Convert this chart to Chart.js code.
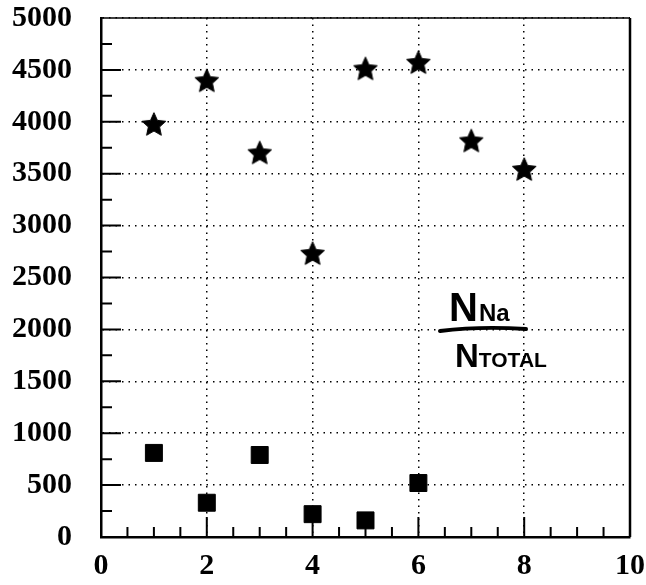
<!DOCTYPE html>
<html>
<head>
<meta charset="utf-8">
<script src="https://cdn.jsdelivr.net/npm/chart.js@4/dist/chart.umd.min.js"></script>
<style>
    body { margin: 0; background: #fff; }
    #wrap { width: 646px; height: 585px; }
</style>
</head>
<body>
<div id="wrap"><canvas id="plot" width="646" height="585"></canvas></div>
<script>
// values
const starX = [1, 2, 3, 4, 5, 6, 7, 8];
const starY = [3980, 4400, 3705, 2735, 4515, 4575, 3820, 3545];
const squareX = [1, 2, 3, 4, 5, 6];
const squareY = [810, 330, 790, 220, 160, 520];

const xTicks = [0, 2, 4, 6, 8, 10];
const yTicks = [0, 500, 1000, 1500, 2000, 2500, 3000, 3500, 4000, 4500, 5000];
const noteTop = ['N', 'Na'];
const noteBottom = ['N', 'TOTAL'];

// filled five point star used as point image
function makeStar(R) {
    const c = document.createElement('canvas');
    const s = Math.ceil(R * 2.2);
    c.width = s;
    c.height = s;
    const g = c.getContext('2d');
    const cx = s / 2, cy = s / 2 + 0.0955 * R;
    g.beginPath();
    for (let i = 0; i < 10; i++) {
        const r = i % 2 === 0 ? R : R * 0.47;
        const a = -Math.PI / 2 + i * Math.PI / 5;
        g.lineTo(cx + r * Math.cos(a), cy + r * Math.sin(a));
    }
    g.closePath();
    g.fillStyle = '#000';
    g.fill();
    g.lineWidth = 1;
    g.strokeStyle = '#000';
    g.stroke();
    return c;
}

const starImg = makeStar(12.5);

// inward ticks, frame and the hand written note
const extras = {
    id: 'extras',
    beforeDatasetsDraw(chart) {
        const ctx = chart.ctx;
        const a = chart.chartArea;
        const xs = chart.scales.x, ys = chart.scales.y;
        ctx.save();
        ctx.strokeStyle = '#000';
        ctx.lineWidth = 2;
        ctx.beginPath();
        for (let v = 0.5; v < 10; v += 0.5) {
            const px = xs.getPixelForValue(v);
            const len = (v % 2 === 0) ? 20 : 10;
            ctx.moveTo(px, a.bottom);
            ctx.lineTo(px, a.bottom - len);
        }
        for (let v = 250; v < 5000; v += 250) {
            const py = ys.getPixelForValue(v);
            const len = (v % 500 === 0) ? 20 : 11;
            ctx.moveTo(a.left, py);
            ctx.lineTo(a.left + len, py);
        }
        ctx.stroke();
        // frame on top and right
        ctx.lineWidth = 1.5;
        ctx.beginPath();
        ctx.moveTo(a.left, a.top);
        ctx.lineTo(a.right, a.top);
        ctx.stroke();
        ctx.lineWidth = 2.5;
        ctx.beginPath();
        ctx.moveTo(a.right, a.top);
        ctx.lineTo(a.right, a.bottom);
        ctx.stroke();

        // note: N_Na over N_TOTAL
        ctx.fillStyle = '#000';
        ctx.textBaseline = 'alphabetic';
        ctx.textAlign = 'left';
        ctx.font = 'bold 40px "Liberation Sans Narrow", "Liberation Sans"';
        ctx.fillText(noteTop[0], 449, 321);
        let w = ctx.measureText(noteTop[0]).width;
        ctx.font = 'bold 24px "Liberation Sans"';
        ctx.fillText(noteTop[1], 449 + w + 1, 321);

        ctx.lineWidth = 4;
        ctx.lineCap = 'round';
        ctx.beginPath();
        ctx.moveTo(440, 331);
        ctx.quadraticCurveTo(480, 326, 526, 329);
        ctx.stroke();

        ctx.font = 'bold 33px "Liberation Sans Narrow", "Liberation Sans"';
        ctx.fillText(noteBottom[0], 455, 367);
        w = ctx.measureText(noteBottom[0]).width;
        ctx.font = 'bold 21px "Liberation Sans Narrow", "Liberation Sans"';
        ctx.fillText(noteBottom[1], 455 + w, 367);
        ctx.restore();
    }
};

const tickFont = { family: '"Liberation Serif", "DejaVu Serif", serif', weight: 'bold', size: 30 };

new Chart(document.getElementById('plot').getContext('2d'), {
    type: 'scatter',
    data: {
        datasets: [{
            label: 'stars',
            data: starX.map((x, i) => ({ x: x, y: starY[i] })),
            pointStyle: starImg,
            pointRadius: 12
        }, {
            label: 'squares',
            data: squareX.map((x, i) => ({ x: x, y: squareY[i] })),
            pointStyle: 'rect',
            pointRadius: 12,
            backgroundColor: '#000',
            borderColor: '#000',
            borderWidth: 1
        }]
    },
    options: {
        responsive: false,
        animation: false,
        layout: { padding: 0 },
        plugins: {
            legend: { display: false },
            tooltip: { enabled: false }
        },
        scales: {
            x: {
                type: 'linear',
                min: 0,
                max: 10,
                afterFit: (s) => { s.height = 48; s.paddingLeft = 0; s.paddingRight = 16; },
                afterBuildTicks: (s) => { s.ticks = xTicks.map(v => ({ value: v })); },
                ticks: { font: tickFont, color: '#000', padding: 11, callback: (v) => String(v) },
                grid: { color: '#000', lineWidth: 1.5, drawTicks: false },
                border: { display: true, color: '#000', width: 2.5, dash: [1.5, 5] }
            },
            y: {
                type: 'linear',
                min: 0,
                max: 5000,
                afterFit: (s) => { s.width = 101; s.paddingTop = 18; s.paddingBottom = 0; },
                afterBuildTicks: (s) => { s.ticks = yTicks.map(v => ({ value: v })); },
                ticks: { font: tickFont, color: '#000', padding: 29, callback: (v) => String(v) },
                grid: { color: '#000', lineWidth: 1.5, drawTicks: false },
                border: { display: true, color: '#000', width: 2.5, dash: [1.5, 5] }
            }
        }
    },
    plugins: [extras]
});
</script>
</body>
</html>
